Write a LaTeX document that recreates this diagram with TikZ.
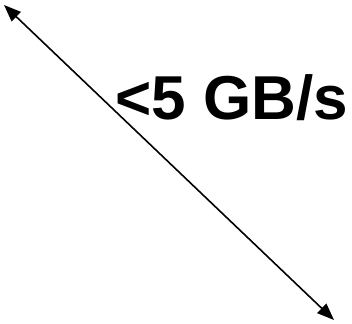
\documentclass[tikz,border=0pt]{standalone}
\usepackage{fontspec}
\setmainfont{Liberation Sans}
\usetikzlibrary{arrows.meta}
\begin{document}
\begin{tikzpicture}[x=1pt,y=1pt,
  link/.style={line width=1.6pt,{Triangle[length=17pt,width=13pt]}-{Triangle[length=17pt,width=13pt]}},
  lbl/.style={font=\fontsize{62}{70}\selectfont\bfseries,inner sep=0pt}]
\useasboundingbox (0,0) rectangle (352,323);
\coordinate (a) at (4,318);
\coordinate (b) at (334,3);
\draw[link] (a) -- (b);
\node[lbl,anchor=base] (t) at (232,203) {<5 GB/s};
\end{tikzpicture}
\end{document}
